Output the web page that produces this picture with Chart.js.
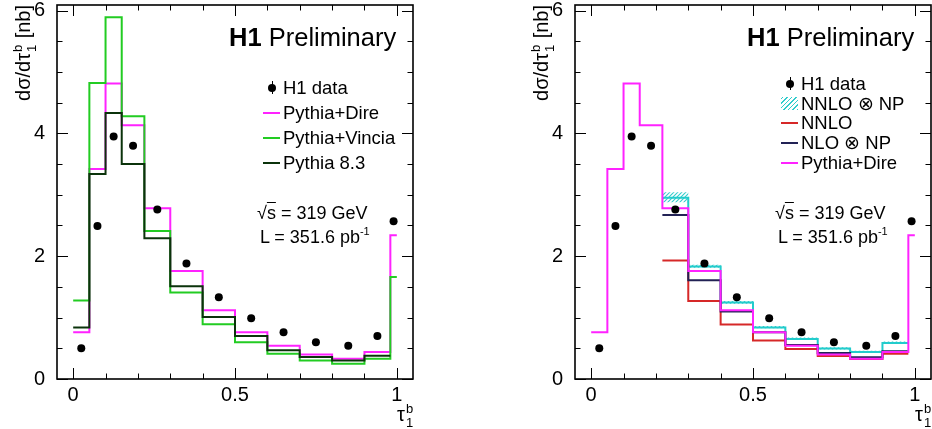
<!DOCTYPE html>
<html lang="en">
<head>
  <meta charset="UTF-8" />
  <title>H1 Preliminary - 1-jettiness tau1b</title>
  <script src="https://cdn.jsdelivr.net/npm/chart.js"></script>
  <style>
    body {
      margin: 0;
      width: 932px;
      height: 429px;
      overflow: hidden;
      background: #fff;
      font-family: 'Liberation Sans', Arial, Helvetica, sans-serif;
      color: #000;
    }
    .panel { position: absolute; top: 0; width: 466px; height: 429px; }
    .panel canvas { position: absolute; left: 0; top: 0; }
    .txt { position: absolute; white-space: nowrap; line-height: 1; }
    .h1tag { font-size: 25.5px; left: 229px; top: 25.4px; }
    .h1tag b { font-weight: bold; }
    .info { font-size: 18px; }
    .info sup { font-size: 11px; vertical-align: 8px; line-height: 0; }
    .ytitle {
      font-size: 20px; left: 13px; top: 205px; width: 200px; text-align: right;
      transform-origin: 0 0; transform: rotate(-90deg);
    }
    .ss { display: inline-block; position: relative; width: 9px; height: 1px; }
    .ss span { position: absolute; left: 1px; font-size: 13px; line-height: 1; }
    .ss .sup { bottom: 6px; }
    .ss .sub { top: -4px; }
    .xtitle { font-size: 20px; left: 397px; top: 404px; }
    .legend { position: absolute; left: 263px; font-size: 18.5px; }
    .row { display: flex; align-items: center; white-space: nowrap; }
    .sw { width: 17px; margin-right: 3px; position: relative; height: 100%; }
    .sw.line::before { content: ''; position: absolute; left: 0; right: 0; top: 50%; height: 2px; margin-top: -1px; background: var(--c); }
    .sw.dot::before { content: ''; position: absolute; left: 5px; top: 50%; width: 8px; height: 8px; margin-top: -4px; border-radius: 50%; background: #000; }
    .sw.dot::after { content: ''; position: absolute; left: 8.5px; top: 50%; width: 1px; height: 13px; margin-top: -6.5px; background: #000; }
    .sw.hatch::before { content: ''; position: absolute; left: 0; right: 0; top: 50%; height: 13px; margin-top: -6.5px;
      background: repeating-linear-gradient(-45deg, #33cccc 0 1.3px, transparent 1.3px 3.2px); }
  </style>
</head>
<body>
  <div class="panel" id="p1" style="left:0px">
    <canvas id="c1" width="466" height="429"></canvas>
    <div class="txt ytitle">dσ/dτ<span class="ss"><span class="sup">b</span><span class="sub">1</span></span> [nb]</div>
    <div class="txt xtitle">τ<span class="ss"><span class="sup">b</span><span class="sub">1</span></span></div>
    <div class="txt h1tag"><b>H1</b> Preliminary</div>
    <div class="txt info" style="left:257px; top:203.8px">√<span style="text-decoration:overline">s</span> = 319 GeV</div>
    <div class="txt info" style="left:260px; top:227.8px">L = 351.6 pb<sup>-1</sup></div>
    <div class="legend" style="top:75px">
      <div class="row" style="height:25px"><span class="sw dot"></span>H1 data</div>
      <div class="row" style="height:25px"><span class="sw line" style="--c:#ff22ff"></span>Pythia+Dire</div>
      <div class="row" style="height:25px"><span class="sw line" style="--c:#22cc22"></span>Pythia+Vincia</div>
      <div class="row" style="height:25px"><span class="sw line" style="--c:#0b330b"></span>Pythia 8.3</div>
    </div>
  </div>

  <div class="panel" id="p2" style="left:518px">
    <canvas id="c2" width="466" height="429"></canvas>
    <div class="txt ytitle">dσ/dτ<span class="ss"><span class="sup">b</span><span class="sub">1</span></span> [nb]</div>
    <div class="txt xtitle">τ<span class="ss"><span class="sup">b</span><span class="sub">1</span></span></div>
    <div class="txt h1tag"><b>H1</b> Preliminary</div>
    <div class="txt info" style="left:257px; top:203.8px">√<span style="text-decoration:overline">s</span> = 319 GeV</div>
    <div class="txt info" style="left:260px; top:227.8px">L = 351.6 pb<sup>-1</sup></div>
    <div class="legend" style="top:74px">
      <div class="row" style="height:19.75px"><span class="sw dot"></span>H1 data</div>
      <div class="row" style="height:19.75px"><span class="sw hatch"></span>NNLO ⊗ NP</div>
      <div class="row" style="height:19.75px"><span class="sw line" style="--c:#d62828"></span>NNLO</div>
      <div class="row" style="height:19.75px"><span class="sw line" style="--c:#222255"></span>NLO ⊗ NP</div>
      <div class="row" style="height:19.75px"><span class="sw line" style="--c:#ff22ff"></span>Pythia+Dire</div>
    </div>
  </div>

  <script>
    const binEdges = [0, 0.05, 0.1, 0.15, 0.22, 0.3, 0.4, 0.5, 0.6, 0.7, 0.8, 0.9, 0.98, 1.0];
    const dataX = [0.025, 0.075, 0.125, 0.185, 0.26, 0.35, 0.45, 0.55, 0.65, 0.75, 0.85, 0.94, 0.99];
    const h1Data = [0.50, 2.49, 3.95, 3.80, 2.76, 1.88, 1.33, 0.99, 0.76, 0.60, 0.54, 0.70, 2.57];

    const pythiaDire   = [0.76, 3.42, 4.81, 4.13, 2.78, 1.76, 1.12, 0.76, 0.54, 0.40, 0.33, 0.44, 2.34];
    const pythiaVincia = [1.28, 4.82, 5.89, 4.28, 2.41, 1.41, 0.89, 0.60, 0.41, 0.30, 0.25, 0.33, 1.66];
    const pythia83     = [0.84, 3.34, 4.33, 3.50, 2.29, 1.51, 1.01, 0.70, 0.47, 0.36, 0.30, 0.38, null];

    const nnloNp   = [null, null, null, null, 2.95, 1.83, 1.245, 0.84, 0.65, 0.495, 0.44, 0.585, null];
    const nnloNpHi = [null, null, null, null, 3.04, 1.86, 1.27, 0.865, 0.675, 0.515, 0.46, 0.61, null];
    const nnloNpLo = [null, null, null, null, 2.88, 1.81, 1.225, 0.825, 0.635, 0.48, 0.425, 0.57, null];
    const nnlo     = [null, null, null, null, 1.93, 1.27, 0.886, 0.625, 0.49, 0.375, 0.326, 0.41, null];
    const nloNp    = [null, null, null, null, 2.67, 1.61, 1.10, 0.76, 0.554, 0.424, 0.353, 0.45, null];

    const xTicks = [0, 0.5, 1];
    const xTickLabels = ['0', '0.5', '1'];
    const yTicks = [0, 2, 4, 6];
    const yTickLabels = ['0', '2', '4', '6'];

    const FONT = "'Liberation Sans', Arial, Helvetica, sans-serif";

    // histogram outline: one point per bin left edge, plus closing right edge
    function histPoints(values) {
      const pts = [];
      let last = -1;
      values.forEach((v, i) => {
        if (v !== null) { pts.push({ x: binEdges[i], y: v }); last = i; }
      });
      if (last >= 0) pts.push({ x: binEdges[last + 1], y: values[last] });
      return pts;
    }

    function histSet(values, color, order) {
      return {
        type: 'line', data: histPoints(values), stepped: true,
        borderColor: color, borderWidth: 2, pointRadius: 0, fill: false, order
      };
    }

    function dataSet() {
      return {
        type: 'scatter', data: dataX.map((x, i) => ({ x, y: h1Data[i] })),
        pointRadius: 4, pointBackgroundColor: '#000', pointBorderWidth: 0, order: 0
      };
    }

    function hatchPattern() {
      const c = document.createElement('canvas');
      c.width = 4; c.height = 4;
      const g = c.getContext('2d');
      g.strokeStyle = '#33cccc';
      g.lineWidth = 1.1;
      g.beginPath();
      g.moveTo(0, 4); g.lineTo(4, 0);
      g.moveTo(-1, 1); g.lineTo(1, -1);
      g.moveTo(3, 5); g.lineTo(5, 3);
      g.stroke();
      return g.createPattern(c, 'repeat');
    }

    // ROOT-like frame with inward ticks on all four sides
    const rootFrame = {
      id: 'rootFrame',
      afterDraw(chart) {
        const { ctx, chartArea: a, scales: { x, y } } = chart;
        ctx.save();
        ctx.strokeStyle = '#000';
        ctx.lineWidth = 1;
        ctx.beginPath();
        for (let i = 0; i <= 10; i++) {
          const px = Math.round(x.getPixelForValue(i / 10)) + 0.5;
          const len = i % 5 === 0 ? 11 : 5.5;
          ctx.moveTo(px, a.bottom); ctx.lineTo(px, a.bottom - len);
          ctx.moveTo(px, a.top); ctx.lineTo(px, a.top + len);
        }
        for (let i = 0; i <= 12; i++) {
          const py = Math.round(y.getPixelForValue(i / 2)) + 0.5;
          const len = i % 4 === 0 ? 11 : 5.5;
          ctx.moveTo(a.left, py); ctx.lineTo(a.left + len, py);
          ctx.moveTo(a.right, py); ctx.lineTo(a.right - len, py);
        }
        ctx.stroke();
        ctx.lineWidth = 1.6;
        ctx.strokeRect(a.left, a.top, a.right - a.left, a.bottom - a.top);
        ctx.restore();
      }
    };

    function makeChart(id, datasets) {
      return new Chart(document.getElementById(id), {
        type: 'line',
        data: { datasets },
        options: {
          responsive: false,
          animation: false,
          layout: { padding: { top: 5, right: 53, left: 0, bottom: 0 } },
          plugins: { legend: { display: false }, tooltip: { enabled: false } },
          scales: {
            x: {
              type: 'linear', min: -0.05, max: 1.05,
              grid: { display: false }, border: { display: false },
              afterBuildTicks: s => { s.ticks = xTicks.map(v => ({ value: v })); },
              afterFit: s => { s.height = 50; s.paddingLeft = 0; s.paddingRight = 0; },
              ticks: {
                color: '#000', padding: -4, maxRotation: 0, autoSkip: false,
                font: { family: FONT, size: 20 },
                callback: (v, i) => xTickLabels[i]
              }
            },
            y: {
              type: 'linear', min: 0, max: 6.09,
              grid: { display: false }, border: { display: false },
              afterBuildTicks: s => { s.ticks = yTicks.map(v => ({ value: v })); },
              afterFit: s => { s.width = 57; s.paddingTop = 0; s.paddingBottom = 0; },
              ticks: {
                color: '#000', padding: 4, autoSkip: false,
                font: { family: FONT, size: 20 },
                callback: (v, i) => yTickLabels[i]
              }
            }
          }
        },
        plugins: [rootFrame]
      });
    }

    makeChart('c1', [
      dataSet(),
      histSet(pythia83, '#0b330b', 1),
      histSet(pythiaVincia, '#22cc22', 2),
      histSet(pythiaDire, '#ff22ff', 3)
    ]);

    makeChart('c2', [
      dataSet(),
      histSet(pythiaDire, '#ff22ff', 1),
      histSet(nloNp, '#222255', 2),
      histSet(nnlo, '#d62828', 3),
      histSet(nnloNp, '#22cccc', 4),
      {
        type: 'line', data: histPoints(nnloNpHi), stepped: true, order: 5,
        borderWidth: 0, borderColor: 'rgba(0,0,0,0)', pointRadius: 0,
        fill: '+1', backgroundColor: hatchPattern()
      },
      {
        type: 'line', data: histPoints(nnloNpLo), stepped: true, order: 6,
        borderWidth: 0, borderColor: 'rgba(0,0,0,0)', pointRadius: 0, fill: false
      }
    ]);
  </script>
</body>
</html>
